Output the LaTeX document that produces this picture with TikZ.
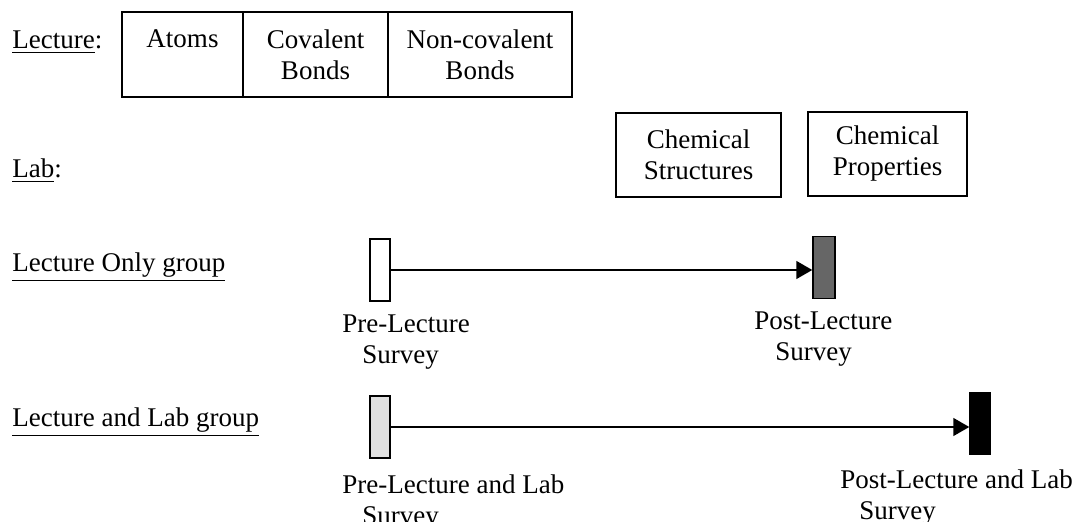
\documentclass[tikz,border=0pt]{standalone}
\usepackage{fontspec}
\setmainfont{Liberation Serif}
\usetikzlibrary{arrows.meta}

\tikzset{
  every node/.style={font=\fontsize{13.5}{15.5}\selectfont},
  cell/.style={draw, line width=0.8pt, inner sep=0pt, align=center},
  bar/.style={draw, line width=0.75pt, minimum width=10pt, minimum height=31pt, inner sep=0pt},
  tag/.style={inner sep=0pt, anchor=base west},
  survey/.style={inner sep=0pt, align=left, anchor=north west},
  conn/.style={line width=0.75pt, -{Triangle[length=8pt,width=9pt]}}
}

\begin{document}
\begin{tikzpicture}[x=0.5pt,y=-0.5pt]
\useasboundingbox (0,0) rectangle (1074,522);

% row titles
\node[tag] (lecture) at (12,49) {\underline{Lecture}:};
\node[tag] (lab) at (12,178) {\underline{Lab}:};
\node[tag] (lonly) at (12,272) {\underline{Lecture Only group}};
\node[tag] (lboth) at (12,427) {\underline{Lecture and Lab group}};

% lecture topics
\node[cell, minimum width=60.5pt, minimum height=42.5pt] (atoms) at (182.5,54.5) {Atoms\\\mbox{}};
\node[cell, minimum width=72.5pt, minimum height=42.5pt] (cov) at (315.5,54.5) {Covalent\\Bonds};
\node[cell, minimum width=92pt, minimum height=42.5pt] (noncov) at (480,54.5) {Non-covalent\\Bonds};

% lab topics
\node[cell, minimum width=82.5pt, minimum height=42pt] (struct) at (698.5,155) {Chemical\\Structures};
\node[cell, minimum width=79.5pt, minimum height=42pt] (props) at (887.5,154) {Chemical\\Properties};

% surveys, lecture only
\node[bar, fill=white] (pre1) at (380,270) {};
\node[bar, fill=black!60, minimum width=11pt] (post1) at (824,267.5) {};
\draw[conn] (pre1.east) -- (pre1.east -| post1.west);
\node[survey] (prelbl1) at (342,314) {Pre-Lecture\\\hspace*{10pt}Survey};
\node[survey] (postlbl1) at (754,311) {Post-Lecture\\\hspace*{10.5pt}Survey};

% surveys, lecture and lab
\node[bar, fill=black!12] (pre2) at (380,427) {};
\node[bar, fill=black] (post2) at (980,423.5) {};
\draw[conn] (pre2.east) -- (pre2.east -| post2.west);
\node[survey] (prelbl2) at (342,474) {Pre-Lecture and Lab\\\hspace*{10pt}Survey};
\node[survey] (postlbl2) at (840,469) {Post-Lecture and Lab\\\hspace*{9.5pt}Survey};
\end{tikzpicture}
\end{document}
